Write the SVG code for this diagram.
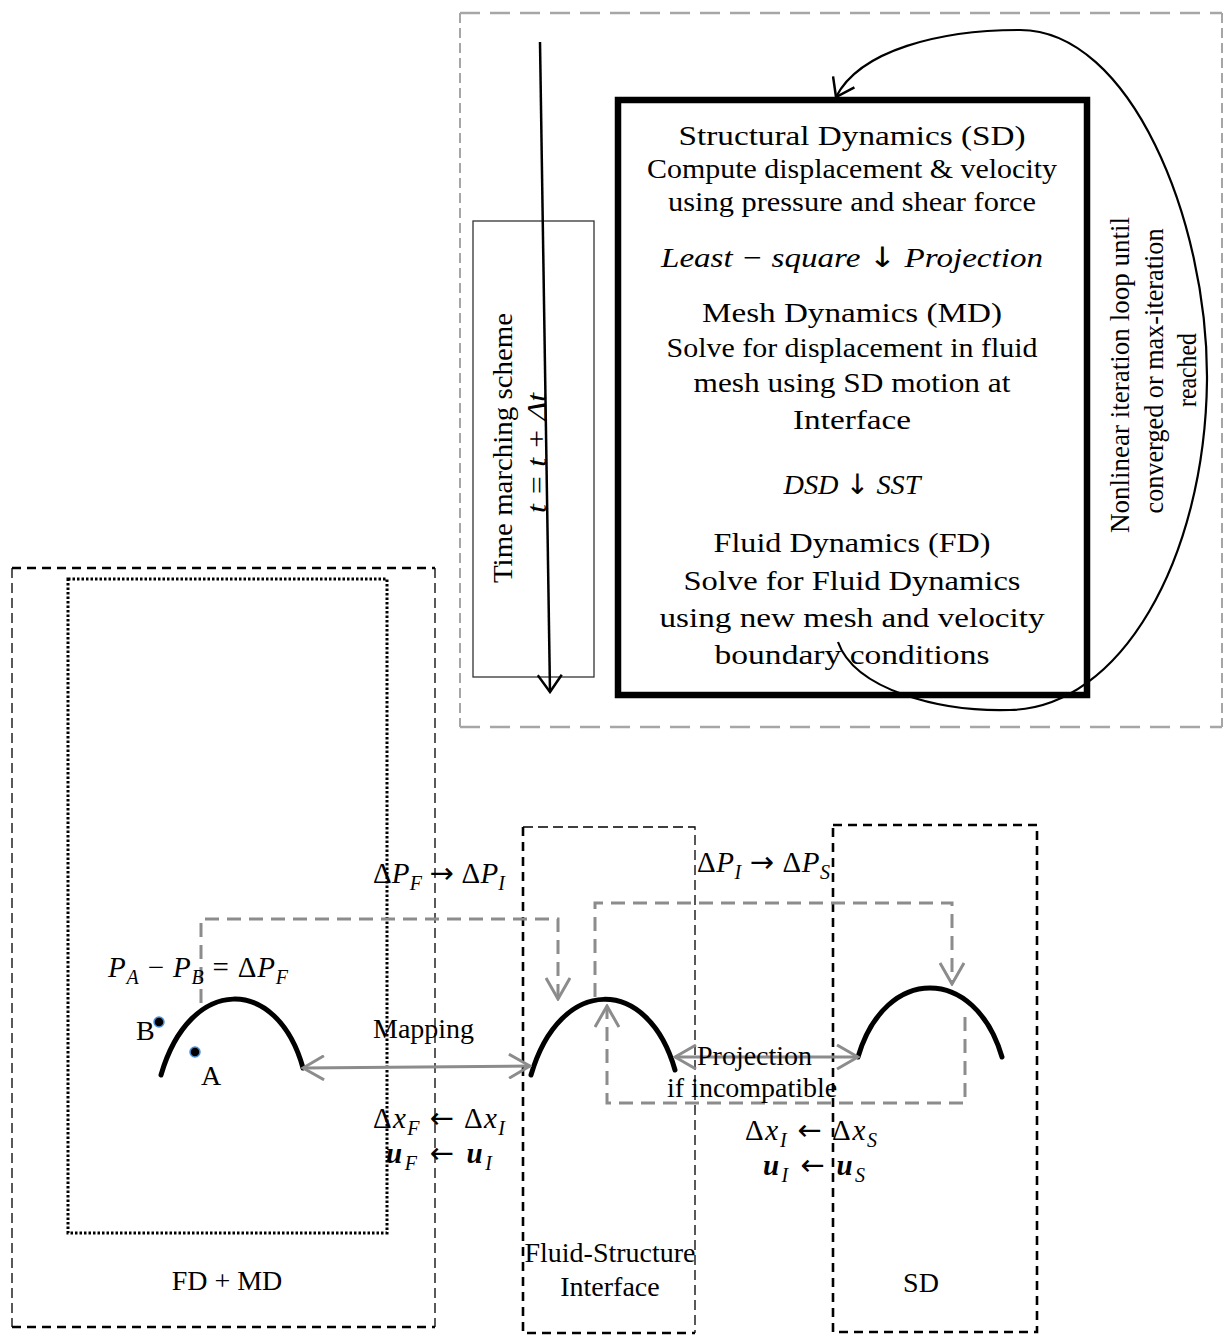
<svg xmlns="http://www.w3.org/2000/svg" width="1225" height="1336" viewBox="0 0 1225 1336">
<style>
.serif{font-family:"Liberation Serif","Times New Roman",serif;fill:#000}
.t28{font-size:28px}
.t27{font-size:27px}
.it{font-style:italic}
.math{font-family:"Liberation Serif","DejaVu Serif",serif;font-size:29px;fill:#000}
.sub{font-size:20px;font-style:italic}
.bi{font-weight:bold;font-style:italic}
.ar{font-family:"DejaVu Sans",sans-serif;font-style:normal;font-weight:normal}
.gdash{fill:none;stroke:#8c8c8c;stroke-width:3;stroke-dasharray:14 8}
.gsolid{fill:none;stroke:#8c8c8c;stroke-width:3}
.arc{fill:none;stroke:#000;stroke-width:5;stroke-linecap:round}
.thin{fill:none;stroke:#000;stroke-width:1.3;stroke-dasharray:10 5}
.thick{fill:none;stroke:#000;stroke-width:2.6;stroke-dasharray:9 6}
</style>
<defs>
<marker id="vg" markerUnits="userSpaceOnUse" viewBox="0 0 24 26" refX="22" refY="13" markerWidth="24" markerHeight="26" orient="auto-start-reverse">
<path d="M1,1 L22,13 L1,25" fill="none" stroke="#8c8c8c" stroke-width="3"/>
</marker>
<marker id="vb" markerUnits="userSpaceOnUse" viewBox="0 0 20 26" refX="18" refY="13" markerWidth="20" markerHeight="26" orient="auto">
<path d="M1,1 L18,13 L1,25" fill="none" stroke="#000" stroke-width="2.5"/>
</marker>
</defs>
<rect width="1225" height="1336" fill="#fff"/>

<g id="outer-top">
<path d="M460,13 H1222" fill="none" stroke="#a6a6a6" stroke-width="2.5" stroke-dasharray="20 10"/>
<path d="M460,727 H1222" fill="none" stroke="#a6a6a6" stroke-width="2.5" stroke-dasharray="20 10"/>
<path d="M460,13 V727 M1222,13 V727" fill="none" stroke="#a6a6a6" stroke-width="2" stroke-dasharray="10 5"/>
</g>

<g id="time-marching">
<rect x="473" y="221" width="121" height="456" fill="none" stroke="#333" stroke-width="1.3"/>
<text class="serif t27" transform="translate(512,448) rotate(-90)" text-anchor="middle" textLength="270" lengthAdjust="spacingAndGlyphs">Time marching scheme</text>
<text class="serif t27 it" transform="translate(546,453) rotate(-90)" text-anchor="middle" textLength="120" lengthAdjust="spacingAndGlyphs">t = t + Δt</text>
</g>

<g id="solver-box">
<rect x="618" y="100" width="469" height="595" fill="none" stroke="#000" stroke-width="6.5"/>
<text class="serif t28" x="852" y="145" text-anchor="middle" textLength="347" lengthAdjust="spacingAndGlyphs">Structural Dynamics (SD)</text>
<text class="serif t28" x="852" y="178" text-anchor="middle" textLength="410" lengthAdjust="spacingAndGlyphs">Compute displacement &amp; velocity</text>
<text class="serif t28" x="852" y="211" text-anchor="middle" textLength="368" lengthAdjust="spacingAndGlyphs">using pressure and shear force</text>
<text class="serif t28 it" x="852" y="267" text-anchor="middle" textLength="382" lengthAdjust="spacingAndGlyphs">Least − square <tspan class="ar">↓</tspan> Projection</text>
<text class="serif t28" x="852" y="322" text-anchor="middle" textLength="300" lengthAdjust="spacingAndGlyphs">Mesh Dynamics (MD)</text>
<text class="serif t28" x="852" y="357" text-anchor="middle" textLength="371" lengthAdjust="spacingAndGlyphs">Solve for displacement in fluid</text>
<text class="serif t28" x="852" y="392" text-anchor="middle" textLength="317" lengthAdjust="spacingAndGlyphs">mesh using SD motion at</text>
<text class="serif t28" x="852" y="429" text-anchor="middle" textLength="118" lengthAdjust="spacingAndGlyphs">Interface</text>
<text class="serif t28 it" x="852" y="494" text-anchor="middle" textLength="137" lengthAdjust="spacingAndGlyphs">DSD <tspan class="ar">↓</tspan> SST</text>
<text class="serif t28" x="852" y="552" text-anchor="middle" textLength="277" lengthAdjust="spacingAndGlyphs">Fluid Dynamics (FD)</text>
<text class="serif t28" x="852" y="590" text-anchor="middle" textLength="337" lengthAdjust="spacingAndGlyphs">Solve for Fluid Dynamics</text>
<text class="serif t28" x="852" y="627" text-anchor="middle" textLength="385" lengthAdjust="spacingAndGlyphs">using new mesh and velocity</text>
<text class="serif t28" x="852" y="664" text-anchor="middle" textLength="275" lengthAdjust="spacingAndGlyphs">boundary conditions</text>
</g>

<g id="loop-label">
<text class="serif t27" transform="translate(1129,375) rotate(-90)" text-anchor="middle" textLength="316" lengthAdjust="spacingAndGlyphs">Nonlinear iteration loop until</text>
<text class="serif t27" transform="translate(1163,371) rotate(-90)" text-anchor="middle" textLength="285" lengthAdjust="spacingAndGlyphs">converged or max-iteration</text>
<text class="serif t27" transform="translate(1196,370) rotate(-90)" text-anchor="middle" textLength="74" lengthAdjust="spacingAndGlyphs">reached</text>
</g>

<g id="fd-md">
<path class="thick" d="M12,568 H435 M12,1327 H435"/>
<path class="thin" d="M12,568 V1327 M435,568 V1327"/>
<rect x="68" y="579" width="319" height="654" fill="none" stroke="#000" stroke-width="3" stroke-dasharray="2.5 2"/>
<path class="arc" d="M161,1075 C190,975 277,975 303,1068"/>
<circle cx="159" cy="1022" r="5" fill="#000" stroke="#4a8fd8" stroke-width="1.5"/>
<circle cx="195" cy="1052" r="5" fill="#000" stroke="#4a8fd8" stroke-width="1.5"/>
<text class="serif t28" x="136" y="1040">B</text>
<text class="serif t28" x="211" y="1085" text-anchor="middle">A</text>
<text class="serif t28" x="227" y="1290" text-anchor="middle">FD + MD</text>
</g>

<g id="fsi">
<path class="thick" d="M523,827 V1333 H695"/>
<path class="thin" d="M523,827 H695 V1333"/>
<path class="arc" d="M531,1075 C560,975 648,975 675,1070"/>
<text class="serif t28" x="610" y="1262" text-anchor="middle">Fluid-Structure</text>
<text class="serif t28" x="610" y="1296" text-anchor="middle">Interface</text>
</g>

<g id="sd">
<rect class="thick" x="833" y="825" width="204" height="507"/>
<path class="arc" d="M858,1057 C885,965 975,965 1002,1057"/>
<text class="serif t28" x="921" y="1292" text-anchor="middle">SD</text>
</g>

<g id="connectors">
<path d="M540,42 L550,692" fill="none" stroke="#000" stroke-width="2.5" marker-end="url(#vb)"/>
<path d="M838,642 C855,690 940,712 1010,710 C1120,708 1205,560 1207,380 C1208,220 1130,30 1020,30 C940,30 860,50 836,97" fill="none" stroke="#000" stroke-width="2.2" marker-end="url(#vb)"/>
<path class="gdash" d="M201,1003 V919 H558 V999" marker-end="url(#vg)"/>
<path class="gdash" d="M595,997 V903 H952 V984" marker-end="url(#vg)"/>
<path class="gdash" d="M965,1017 V1103 H607 V1006" marker-end="url(#vg)"/>
<path class="gsolid" d="M303,1068 L530,1066" marker-start="url(#vg)" marker-end="url(#vg)"/>
<path class="gsolid" d="M675,1057 L858,1057" marker-start="url(#vg)" marker-end="url(#vg)"/>
</g>

<g id="labels">
<text class="serif t28" x="373" y="1038">Mapping</text>
<text class="serif t28" x="697" y="1065">Projection</text>
<text class="serif t28" x="667" y="1097">if incompatible</text>
<text class="math" x="373" y="883" textLength="132" lengthAdjust="spacing">Δ<tspan class="it">P</tspan><tspan class="sub" dy="7">F</tspan><tspan dy="-7"> </tspan><tspan class="ar">→</tspan> Δ<tspan class="it">P</tspan><tspan class="sub" dy="7">I</tspan></text>
<text class="math" x="108" y="977" textLength="180" lengthAdjust="spacing"><tspan class="it">P</tspan><tspan class="sub" dy="7">A</tspan><tspan dy="-7"> − </tspan><tspan class="it">P</tspan><tspan class="sub" dy="7">B</tspan><tspan dy="-7"> = Δ</tspan><tspan class="it">P</tspan><tspan class="sub" dy="7">F</tspan></text>
<text class="math" x="373" y="1128" textLength="132" lengthAdjust="spacing">Δ<tspan class="it">x</tspan><tspan class="sub" dy="7">F</tspan><tspan dy="-7"> </tspan><tspan class="ar">←</tspan> Δ<tspan class="it">x</tspan><tspan class="sub" dy="7">I</tspan></text>
<text class="math" x="386" y="1163" textLength="106" lengthAdjust="spacing"><tspan class="bi">u</tspan><tspan class="sub" dy="7">F</tspan><tspan dy="-7"> </tspan><tspan class="ar">←</tspan> <tspan class="bi">u</tspan><tspan class="sub" dy="7">I</tspan></text>
<text class="math" x="697" y="872" textLength="133" lengthAdjust="spacing">Δ<tspan class="it">P</tspan><tspan class="sub" dy="7">I</tspan><tspan dy="-7"> </tspan><tspan class="ar">→</tspan> Δ<tspan class="it">P</tspan><tspan class="sub" dy="7">S</tspan></text>
<text class="math" x="745" y="1140" textLength="132" lengthAdjust="spacing">Δ<tspan class="it">x</tspan><tspan class="sub" dy="7">I</tspan><tspan dy="-7"> </tspan><tspan class="ar">←</tspan> Δ<tspan class="it">x</tspan><tspan class="sub" dy="7">S</tspan></text>
<text class="math" x="763" y="1175" textLength="102" lengthAdjust="spacing"><tspan class="bi">u</tspan><tspan class="sub" dy="7">I</tspan><tspan dy="-7"> </tspan><tspan class="ar">←</tspan> <tspan class="bi">u</tspan><tspan class="sub" dy="7">S</tspan></text>
</g>
</svg>
